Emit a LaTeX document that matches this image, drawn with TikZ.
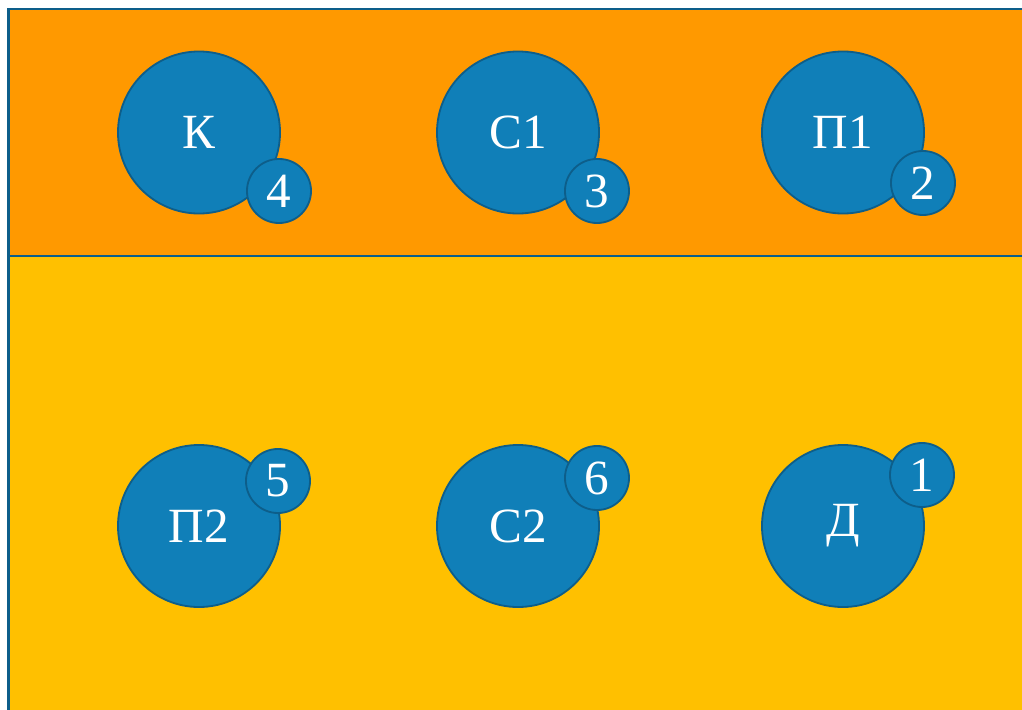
\documentclass[tikz,border=0pt]{standalone}
\usepackage{fontspec}
\setmainfont{Liberation Serif}
\definecolor{bandorange}{HTML}{FF9900}
\definecolor{bandyellow}{HTML}{FFC000}
\definecolor{circblue}{HTML}{107FB8}
\definecolor{edgeblue}{HTML}{0D5E8A}

\begin{document}
\begin{tikzpicture}[x=0.025cm, y=-0.025cm,
  band/.style     ={draw=edgeblue, line width=2.1pt},
  station/.style  ={circle, draw=edgeblue, fill=circblue, line width=1.3pt,
                    inner sep=0pt, minimum size=4.05cm, text=white,
                    font=\fontsize{35}{40}\selectfont},
  badge/.style    ={station, minimum size=1.6cm}
]
\useasboundingbox (0,0) rectangle (1022,710);
\clip (0,0) rectangle (1022,710);

%%% ---- background bands ------------------------------------------------
\draw[band, fill=bandorange] (8.5,9)   rectangle (1040,256);
\draw[band, fill=bandyellow] (8.5,256) rectangle (1040,730);

%%% ---- top row -----------------------------------------------------------
\node[station] (k)  at (199,132.5) {К};
\node[station] (s1) at (518,132.5) {С1};
\node[station] (p1) at (843,132.5) {П1};

\node[badge] (n4) at (279,191) {4};
\node[badge] (n3) at (597,191) {3};
\node[badge] (n2) at (923,183) {2};

%%% ---- bottom row --------------------------------------------------------
\node[station] (p2) at (199,526) {П2};
\node[station] (s2) at (518,526) {С2};
\node[station] (d)  at (843,526) {Д};

\node[badge] (n5) at (278,481) {5};
\node[badge] (n6) at (597,478) {6};
\node[badge] (n1) at (922,475) {1};

\end{tikzpicture}
\end{document}
